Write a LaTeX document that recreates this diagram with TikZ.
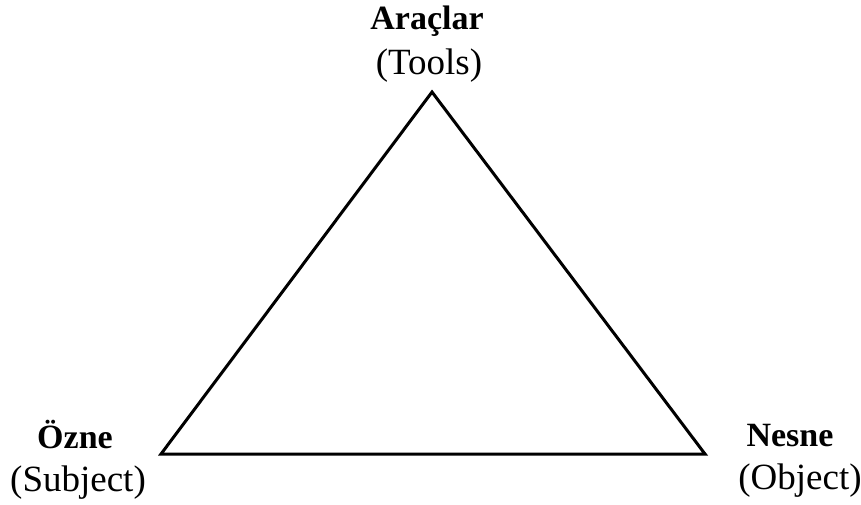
\documentclass[tikz,border=0pt]{standalone}
\usepackage{fontspec}
\setmainfont{Liberation Serif}
\begin{document}
\begin{tikzpicture}[x=1pt,y=-1pt,
  lbl/.style={anchor=base,inner sep=0pt,font=\fontsize{34}{40}\selectfont\bfseries},
  sub/.style={anchor=base,inner sep=0pt,font=\fontsize{37}{44}\selectfont},
  edge/.style={line width=3pt,line join=miter}]
\useasboundingbox (0,0) rectangle (861,504);
\node[lbl] (araclar) at (427,29) {Araçlar};
\node[sub] (tools) at (429,74) {(Tools)};
\node[lbl] (ozne) at (75,448) {Özne};
\node[sub] (subject) at (78,491) {(Subject)};
\node[lbl] (nesne) at (790,446) {Nesne};
\node[sub] (object) at (800,489) {(Object)};
\coordinate (top) at (432,92);
\coordinate (left) at (161,454);
\coordinate (right) at (705,454);
\draw[edge] (top) -- (left) -- (right) -- cycle;
\end{tikzpicture}
\end{document}
